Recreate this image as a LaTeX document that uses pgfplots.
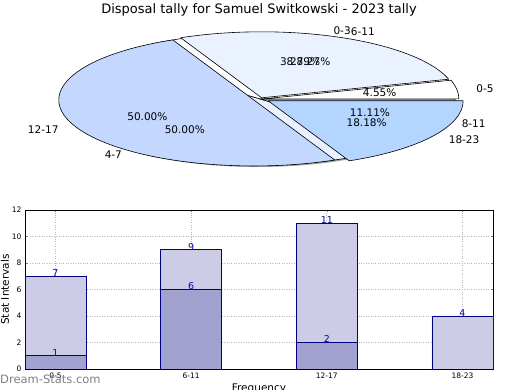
\documentclass[border=0pt]{standalone}
\usepackage{pgfplots}
\pgfplotsset{compat=1.18}
\usepackage{fontspec}
\setmainfont{DejaVu Sans}
\definecolor{pA}{RGB}{234,242,255}
\definecolor{pB}{RGB}{196,215,255}
\definecolor{pC}{RGB}{180,213,255}
\definecolor{lightbar}{RGB}{204,204,230}
\definecolor{darkbar}{RGB}{162,162,208}
\definecolor{navy}{RGB}{0,0,128}
\definecolor{lbl}{RGB}{10,10,160}

% value/colour/explode/label ; total
\newcommand\drawpie[2]{%
  \gdef\cum{0}%
  \foreach \v/\c/\e/\l in {#1} {%
    \pgfmathsetmacro\aS{\cum}%
    \pgfmathsetmacro\aE{\cum+\v/#2*360}%
    \pgfmathsetmacro\aM{(\aS+\aE)/2}%
    \pgfmathsetmacro\dx{\e*cos(\aM)}%
    \pgfmathsetmacro\dy{\e*sin(\aM)}%
    \pgfmathsetmacro\xs{\dx+cos(\aS)}%
    \pgfmathsetmacro\ys{\dy+sin(\aS)}%
    \xdef\cum{\aE}%
    \edef\temp{\noexpand\filldraw[fill=\c, draw=black, line width=0.6pt, line join=round] (axis cs:\dx,\dy) -- (axis cs:\xs,\ys) arc[start angle=\aS, end angle=\aE, x radius=195pt, y radius=66pt] -- cycle;}%
    \temp
  }%
}
\newcommand\labelpie[2]{%
  \gdef\cum{0}%
  \foreach \v/\c/\e/\l in {#1} {%
    \pgfmathsetmacro\aS{\cum}%
    \pgfmathsetmacro\aE{\cum+\v/#2*360}%
    \pgfmathsetmacro\aM{(\aS+\aE)/2}%
    \pgfmathsetmacro\lx{\e*cos(\aM)+1.1*cos(\aM)}%
    \pgfmathsetmacro\ly{\e*sin(\aM)+1.1*sin(\aM)}%
    \pgfmathsetmacro\px{\e*cos(\aM)+0.6*cos(\aM)}%
    \pgfmathsetmacro\py{\e*sin(\aM)+0.6*sin(\aM)}%
    \pgfmathsetmacro\pct{\v*100/#2+0.001}%
    \pgfmathsetmacro\side{cos(\aM)>0 ? 1 : 0}%
    \xdef\cum{\aE}%
    \ifdim\side pt>0.5pt \def\anc{west}\else\def\anc{east}\fi
    \edef\temp{\noexpand\node[anchor=\anc, inner sep=0pt, font=\noexpand\fontsize{10.5}{12}\noexpand\selectfont] at (axis cs:\lx,\ly) {\l};
      \noexpand\node[anchor=center, inner sep=0pt, font=\noexpand\fontsize{10.5}{12}\noexpand\selectfont] at (axis cs:\px,\py) {\noexpand\pgfmathprintnumber[fixed,fixed zerofill,precision=2,assume math mode=true]{\pct}\noexpand\%};}%
    \temp
  }%
}

\begin{document}
\begin{tikzpicture}
\useasboundingbox (0,0) rectangle (520pt,390pt);
\node[font=\fontsize{13}{15}\selectfont] at (259pt,380pt) {Disposal tally for Samuel Switkowski - 2023 tally};

\begin{axis}[
  at={(6.5pt,208.5pt)}, anchor=south west,
  scale only axis, width=507pt, height=165pt,
  xmin=-1.3, xmax=1.3, ymin=-1.25, ymax=1.25,
  hide axis, clip=false]
  \addplot[draw=none] coordinates {(0,0)};
  \fill[gray!75] (axis cs:-0.012,-0.03) ellipse[x radius=195pt, y radius=66pt];
  % second pie: 0-3, 4-7, 8-11 (total 18)
  \drawpie{7/white/0/0-3, 9/pA/0/4-7, 2/pB/0/8-11}{18}
  % first pie: 0-5, 6-11, 12-17, 18-23 (total 22)
  \drawpie{1/white/0.02/0-5, 6/pA/0.02/6-11, 11/pB/0.035/12-17, 4/pC/0.05/18-23}{22}
  \labelpie{1/white/0.02/0-5, 6/pA/0.02/6-11, 11/pB/0.035/12-17, 4/pC/0.05/18-23}{22}
  \labelpie{7/white/0/0-3, 9/pA/0/4-7, 2/pB/0/8-11}{18}
\end{axis}

\begin{axis}[
  at={(25pt,21pt)}, anchor=south west,
  scale only axis, width=468pt, height=159pt,
  xmin=-0.225, xmax=3.225, ymin=0, ymax=12,
  xtick={0,1,2,3}, xticklabels={0-5,6-11,12-17,18-23},
  ytick={0,2,4,6,8,10,12},
  /pgf/number format/assume math mode=true,
  tick label style={font=\fontsize{7.5}{9}\selectfont},
  tick align=inside, major tick length=2.5pt,
  tick style={black!50},
  grid=major, grid style={dotted, line width=0.7pt, black!28},
  axis line style={line width=0.6pt},
  ylabel={Stat Intervals},
  ylabel style={at={(axis description cs:-0.043,0.5)}, anchor=center, font=\fontsize{10.5}{12}\selectfont},
  xlabel={Frequency},
  xlabel style={at={(axis description cs:0.5,-0.125)}, anchor=center, font=\fontsize{10.5}{12}\selectfont},
  nodes near coords,
  every node near coord/.append style={font=\fontsize{9.5}{11}\selectfont, text=lbl, anchor=base, yshift=-0.5pt, inner sep=0pt}]
  \addplot[ybar, bar width=0.45, bar shift=0pt, fill=lightbar, draw=navy, line width=0.6pt] coordinates {(0,7) (1,9) (2,11) (3,4)};
  \addplot[ybar, bar width=0.45, bar shift=0pt, fill=darkbar, draw=navy, line width=0.6pt] coordinates {(0,1) (1,6) (2,2)};
\end{axis}
\node[font=\fontsize{11.5}{13}\selectfont, text=black!50, anchor=west, inner sep=0pt] at (0pt,10.5pt) {Dream-Stats.com};
\end{tikzpicture}
\end{document}
